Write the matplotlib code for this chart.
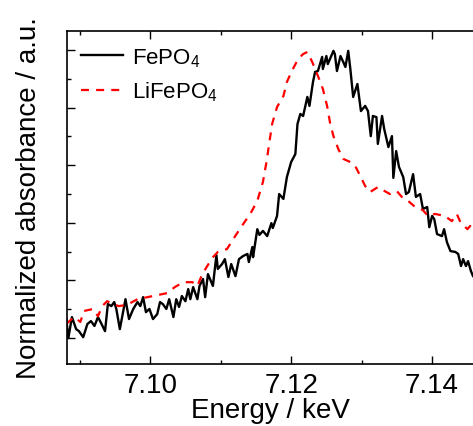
import matplotlib
matplotlib.use("Agg")
import matplotlib.pyplot as plt
from matplotlib.ticker import MultipleLocator

plt.rcParams["font.family"] = ["Liberation Sans", "DejaVu Sans"]

# FePO4 spectrum (energy in keV, normalized absorbance)
fepo4_energy = [
    7.0881, 7.0884, 7.0889, 7.0895, 7.0899, 7.0905, 7.0911, 7.0916, 7.0921, 7.0926,
    7.0931, 7.0936, 7.0940, 7.0945, 7.0949, 7.0952, 7.0957, 7.0965, 7.0970, 7.0976,
    7.0982, 7.0986, 7.0990, 7.0994, 7.0999, 7.1004, 7.1010, 7.1014, 7.1018, 7.1023,
    7.1027, 7.1033, 7.1037, 7.1041, 7.1045, 7.1050, 7.1054, 7.1057, 7.1061, 7.1067,
    7.1070, 7.1075, 7.1078, 7.1082, 7.1089, 7.1094, 7.1096, 7.1102, 7.1106, 7.1111,
    7.1115, 7.1121, 7.1126, 7.1132, 7.1138, 7.1140, 7.1145, 7.1146, 7.1152, 7.1155,
    7.1160, 7.1166, 7.1172, 7.1174, 7.1180, 7.1183, 7.1189, 7.1194, 7.1200, 7.1206,
    7.1209, 7.1213, 7.1217, 7.1223, 7.1226, 7.1231, 7.1234, 7.1238, 7.1244, 7.1245,
    7.1250, 7.1252, 7.1260, 7.1262, 7.1265, 7.1270, 7.1274, 7.1277, 7.1281, 7.1284,
    7.1288, 7.1294, 7.1299, 7.1305, 7.1309, 7.1313, 7.1316, 7.1321, 7.1323, 7.1329,
    7.1332, 7.1338, 7.1343, 7.1345, 7.1349, 7.1353, 7.1359, 7.1363, 7.1367, 7.1373,
    7.1377, 7.1383, 7.1387, 7.1393, 7.1396, 7.1400, 7.1403, 7.1407, 7.1414, 7.1417,
    7.1421, 7.1426, 7.1433, 7.1437, 7.1441, 7.1444, 7.1448, 7.1451, 7.1455, 7.1458,
    7.1465,
]
fepo4_abs = [
    0.066, 0.000, 0.073, 0.031, 0.024, 0.003, 0.049, 0.059, 0.042, 0.073,
    0.049, 0.024, 0.118, 0.111, 0.125, 0.101, 0.031, 0.135, 0.066, 0.101,
    0.125, 0.111, 0.142, 0.090, 0.101, 0.066, 0.083, 0.125, 0.118, 0.101,
    0.135, 0.073, 0.135, 0.108, 0.146, 0.128, 0.170, 0.135, 0.177, 0.135,
    0.181, 0.205, 0.142, 0.222, 0.181, 0.288, 0.240, 0.257, 0.274, 0.212,
    0.257, 0.215, 0.274, 0.285, 0.292, 0.264, 0.316, 0.281, 0.378, 0.358,
    0.372, 0.354, 0.399, 0.382, 0.424, 0.500, 0.483, 0.559, 0.611, 0.639,
    0.743, 0.778, 0.771, 0.837, 0.806, 0.889, 0.924, 0.927, 0.976, 0.934,
    0.979, 0.951, 0.997, 0.986, 0.927, 0.979, 0.958, 0.941, 0.997, 0.934,
    0.837, 0.882, 0.788, 0.806, 0.788, 0.701, 0.771, 0.767, 0.674, 0.771,
    0.726, 0.663, 0.701, 0.556, 0.649, 0.594, 0.559, 0.500, 0.507, 0.569,
    0.490, 0.500, 0.448, 0.455, 0.385, 0.424, 0.413, 0.361, 0.354, 0.378,
    0.333, 0.302, 0.299, 0.292, 0.250, 0.274, 0.250, 0.267, 0.233, 0.215,
    0.200,
]

# LiFePO4 spectrum
lifepo4_energy = [
    7.0881, 7.0892, 7.0901, 7.0906, 7.0919, 7.0926, 7.0932, 7.0939, 7.0955, 7.0967,
    7.0982, 7.0990, 7.1004, 7.1024, 7.1035, 7.1047, 7.1060, 7.1067, 7.1074, 7.1088,
    7.1096, 7.1109, 7.1118, 7.1130, 7.1142, 7.1152, 7.1160, 7.1165, 7.1173, 7.1180,
    7.1189, 7.1194, 7.1201, 7.1210, 7.1217, 7.1223, 7.1230, 7.1238, 7.1245, 7.1251,
    7.1255, 7.1260, 7.1267, 7.1274, 7.1284, 7.1291, 7.1298, 7.1305, 7.1312, 7.1323,
    7.1340, 7.1350, 7.1357, 7.1366, 7.1376, 7.1387, 7.1394, 7.1404, 7.1418, 7.1428,
    7.1435, 7.1440, 7.1450, 7.1454, 7.1458, 7.1465,
]
lifepo4_abs = [
    0.049, 0.073, 0.056, 0.094, 0.101, 0.076, 0.111, 0.128, 0.111, 0.115,
    0.135, 0.139, 0.146, 0.156, 0.177, 0.194, 0.194, 0.181, 0.222, 0.278,
    0.299, 0.309, 0.344, 0.389, 0.431, 0.476, 0.542, 0.611, 0.743, 0.802,
    0.840, 0.889, 0.927, 0.969, 0.986, 0.993, 0.958, 0.910, 0.865, 0.806,
    0.750, 0.701, 0.656, 0.622, 0.611, 0.597, 0.563, 0.528, 0.507, 0.524,
    0.500, 0.510, 0.490, 0.476, 0.455, 0.444, 0.424, 0.431, 0.424, 0.406,
    0.431, 0.403, 0.378, 0.389, 0.368, 0.360,
]

fig = plt.figure(figsize=(4.73, 4.27), dpi=100)
ax = fig.add_axes([0.1416, 0.1452, 0.8584, 0.7799])

ax.plot(fepo4_energy, fepo4_abs, color="black", lw=1.7, label=r"FePO$_\mathregular{4}$")
ax.plot(lifepo4_energy, lifepo4_abs, color="red", lw=1.6,
        linestyle=(0, (3.6, 3.2)), label=r"LiFePO$_\mathregular{4}$")

ax.set_xlim(7.0882, 7.1458)
ax.set_ylim(-0.09, 1.066)

ax.xaxis.set_major_locator(MultipleLocator(0.02))
ax.xaxis.set_minor_locator(MultipleLocator(0.01))
ax.yaxis.set_major_locator(MultipleLocator(0.2))
ax.yaxis.set_minor_locator(MultipleLocator(0.1))
ax.set_xticks([7.10, 7.12, 7.14])
ax.set_xticklabels(["7.10", "7.12", "7.14"])

ax.tick_params(which="both", direction="in", top=True, right=False,
               labelleft=False, labelsize=20, pad=6, width=1)
ax.tick_params(which="major", length=6)
ax.tick_params(which="minor", length=3)
ax.spines["right"].set_visible(False)
for s in ["left", "bottom", "top"]:
    ax.spines[s].set_linewidth(1.2)

ax.set_xlabel("Energy / keV", fontsize=20, labelpad=-1)
ax.set_ylabel("Normalized absorbance / a.u.", fontsize=20, labelpad=18)

ax.legend(loc="upper left", bbox_to_anchor=(0.0345, 0.955), frameon=False,
          fontsize=16, handlelength=1.9, handletextpad=0.4, labelspacing=0.5,
          borderaxespad=0, borderpad=0)

plt.savefig("out.png", dpi=100)
